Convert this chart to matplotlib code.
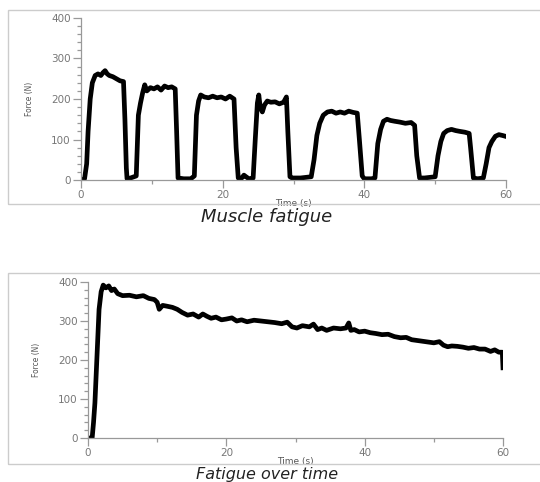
import numpy as np
import matplotlib.pyplot as plt
from matplotlib.patches import Rectangle
from matplotlib.ticker import MultipleLocator

# muscle fatigue: repeated squeezes (time in s, force in N)
t_rep = [0, 0.5, 0.8, 1.0, 1.3, 1.6, 2.0, 2.4, 2.8, 3.1, 3.4, 3.7, 4.0, 4.5, 5.0, 5.5, 6.0, 6.2,
         6.4, 6.5, 7.0, 7.8, 8.1, 8.4, 8.7, 9.0, 9.3, 9.8, 10.3, 10.8, 11.3, 11.8, 12.3, 12.8, 13.3,
         13.5, 13.7, 14.5, 15.5, 16.0, 16.3, 16.6, 16.9, 17.4, 18.0, 18.6, 19.2, 19.8, 20.4, 21.0,
         21.6, 21.9, 22.2, 22.7, 23.0, 23.3, 23.7, 24.3, 24.6, 24.9, 25.1, 25.3, 25.6, 25.9, 26.3,
         26.8, 27.4, 28.0, 28.6, 29.0, 29.2, 29.5, 29.8, 31.0, 32.5, 32.9, 33.3, 33.7, 34.2, 34.8,
         35.4, 36.0, 36.6, 37.2, 37.8, 38.4, 39.0, 39.3, 39.7, 40.0, 41.0, 41.5, 41.9, 42.3, 42.7,
         43.2, 43.7, 44.3, 45.0, 45.8, 46.6, 47.1, 47.4, 47.8, 48.5, 50.0, 50.4, 50.8, 51.2, 51.7,
         52.3, 52.9, 53.5, 54.2, 54.8, 55.0, 55.4, 56.0, 56.8, 57.2, 57.6, 58.0, 58.5, 59.0, 59.5,
         59.9]
f_rep = [0, 3, 40, 120, 200, 240, 258, 262, 258, 265, 270, 262, 258, 255, 250, 245, 243, 150,
         30, 3, 5, 10, 160, 190, 215, 235, 220, 228, 225, 230, 222, 232, 228, 230, 225,
         120, 5, 3, 3, 10, 160, 195, 210, 205, 203, 207, 203, 205, 200, 207,
         200, 80, 5, 5, 12, 8, 3, 5, 100, 190, 210, 180, 168, 185, 195,
         192, 193, 188, 192, 205, 120, 8, 5, 5, 8, 50, 110, 140, 160, 168,
         170, 165, 168, 165, 170, 167, 165, 100, 10, 3, 3, 5, 90, 125, 145,
         150, 147, 145, 143, 140, 142, 135, 60, 5, 5, 8, 60, 95, 115, 122,
         125, 122, 120, 118, 115, 80, 5, 3, 5, 40, 80, 95, 108, 112, 110,
         108]

# sustained squeeze
t_sus = [0, 0.6, 0.8, 1.0, 1.2, 1.4, 1.6, 1.9, 2.2, 2.6, 3.0, 3.4, 3.8, 4.3, 5.0, 6.0, 7.0, 8.0,
         8.8, 9.6, 10.0, 10.3, 10.8, 11.4, 12.2, 12.9, 13.6, 14.4, 15.2, 16.0, 16.6, 17.2, 17.8,
         18.5, 19.3, 20.0, 20.8, 21.5, 22.2, 23.0, 24.0, 25.0, 26.0, 27.0, 28.0, 28.8, 29.5, 30.2,
         31.0, 32.0, 32.6, 33.2, 33.8, 34.5, 35.5, 36.5, 37.3, 37.7, 38.0, 38.5, 39.2, 40.0, 40.8,
         41.6, 42.5, 43.4, 44.3, 45.2, 46.0, 46.8, 47.6, 48.4, 49.2, 50.0, 50.8, 51.4, 52.0, 52.6,
         53.4, 54.2, 55.0, 55.8, 56.6, 57.4, 58.2, 58.8, 59.4, 59.9, 60.0]
f_sus = [0, 0, 40, 90, 170, 250, 330, 375, 392, 385, 390, 378, 382, 370, 365, 366, 362, 365,
         358, 355, 348, 330, 340, 338, 335, 330, 322, 315, 318, 310, 318, 312, 307,
         310, 303, 305, 308, 300, 303, 298, 302, 300, 298, 296, 293, 297, 285, 282,
         288, 285, 292, 278, 282, 276, 282, 280, 282, 295, 276, 278, 272, 274, 270,
         268, 265, 266, 260, 257, 258, 252, 250, 248, 246, 244, 247, 238, 234, 236,
         235, 233, 230, 232, 228, 228, 222, 226, 220, 220, 180]

fig = plt.figure(figsize=(5.4, 4.82), dpi=100)

# light frames around the two screenshots
for y0, h in [(1 - 204 / 482, 194 / 482), (1 - 464 / 482, 191 / 482)]:
    fig.patches.append(Rectangle((8 / 540, y0), 1.0, h, transform=fig.transFigure,
                                 fill=False, edgecolor='#cccccc', lw=1.0))


def style(ax):
    for s in ['top', 'right']:
        ax.spines[s].set_visible(False)
    for s in ['left', 'bottom']:
        ax.spines[s].set_color('#999999')
        ax.spines[s].set_linewidth(0.9)
    ax.set_xlim(0, 60)
    ax.set_ylim(0, 400)
    ax.set_xticks([0, 20, 40, 60])
    ax.set_yticks([0, 100, 200, 300, 400])
    ax.xaxis.set_minor_locator(MultipleLocator(10))
    ax.yaxis.set_minor_locator(MultipleLocator(20))
    ax.tick_params(colors='#999999', labelcolor='#777777', labelsize=7.5, width=0.9, length=6, pad=1.5)
    ax.tick_params(which='minor', colors='#999999', width=0.9, length=3)
    ax.set_xlabel('Time (s)', fontsize=6.5, color='#555555', labelpad=-1)
    ax.set_ylabel('Force (N)', fontsize=6, color='#555555', fontstretch='condensed', labelpad=12)


ax1 = fig.add_axes([81 / 540, 1 - 180 / 482, 425 / 540, 162 / 482])
ax1.plot(t_rep, f_rep, color='black', lw=3.4, solid_joinstyle='round')
style(ax1)

ax2 = fig.add_axes([88 / 540, 1 - 438 / 482, 415 / 540, 156 / 482])
ax2.plot(t_sus, f_sus, color='black', lw=3.4, solid_joinstyle='round')
style(ax2)

fig.text(267 / 540, 1 - 217 / 482, 'Muscle fatigue', ha='center', va='center',
         fontsize=13, style='italic', color='#222222')
fig.text(267 / 540, 1 - 474 / 482, 'Fatigue over time', ha='center', va='center',
         fontsize=11.5, style='italic', color='#222222')

fig.savefig('out.png', dpi=100)
